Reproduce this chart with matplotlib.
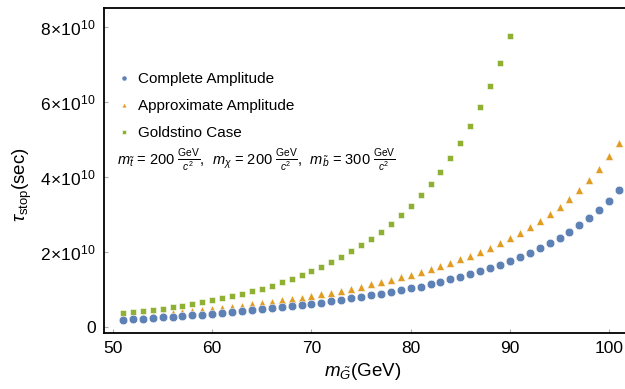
import matplotlib
matplotlib.use("Agg")
from matplotlib import pyplot as plt
from matplotlib.ticker import FuncFormatter

plt.rcParams['font.family'] = ['Liberation Sans', 'DejaVu Sans']
plt.rcParams['mathtext.fontset'] = 'custom'
plt.rcParams['mathtext.rm'] = 'Liberation Sans'
plt.rcParams['mathtext.it'] = 'Liberation Sans:italic'
plt.rcParams['mathtext.bf'] = 'Liberation Sans:bold'

# gravitino mass (GeV)
mass = list(range(51, 102))
mass_goldstino = list(range(51, 91))

# stop lifetime, in units of 1e10 sec
complete = [0.187, 0.205, 0.222, 0.24, 0.258, 0.275, 0.293, 0.31, 0.33, 0.35,
            0.365, 0.39, 0.42, 0.45, 0.47, 0.50, 0.525, 0.55, 0.587, 0.613,
            0.648, 0.693, 0.728, 0.765, 0.80, 0.845, 0.888, 0.933, 0.987, 1.03,
            1.07, 1.15, 1.21, 1.27, 1.34, 1.41, 1.49, 1.57, 1.66, 1.75,
            1.87, 1.97, 2.10, 2.23, 2.37, 2.53, 2.71, 2.91, 3.12, 3.37, 3.65]
approximate = [0.26, 0.28, 0.30, 0.325, 0.35, 0.37, 0.40, 0.42, 0.45, 0.47,
               0.50, 0.53, 0.57, 0.60, 0.63, 0.667, 0.712, 0.747, 0.78, 0.827,
               0.872, 0.915, 0.968, 1.02, 1.075, 1.14, 1.20, 1.25, 1.32, 1.39,
               1.47, 1.54, 1.63, 1.71, 1.81, 1.90, 2.00, 2.11, 2.24, 2.37,
               2.51, 2.67, 2.83, 3.00, 3.21, 3.41, 3.65, 3.92, 4.21, 4.55, 4.91]
goldstino = [0.365, 0.39, 0.42, 0.453, 0.49, 0.525, 0.568, 0.613, 0.66, 0.71,
             0.765, 0.82, 0.88, 0.95, 1.02, 1.095, 1.19, 1.28, 1.38, 1.485,
             1.60, 1.725, 1.867, 2.02, 2.18, 2.355, 2.54, 2.75, 2.99, 3.23,
             3.51, 3.80, 4.14, 4.51, 4.91, 5.36, 5.87, 6.43, 7.05, 7.75]

scale = 1e10

fig = plt.figure(figsize=(6.25, 3.89), dpi=100)
ax = fig.add_axes([0.1664, 0.144, 0.8336, 0.8355])

ax.plot(mass, [v * scale for v in complete], 'o', color='#5E81B5', ms=6.2,
        mec='white', mew=0.4, label='Complete Amplitude', zorder=3)
ax.plot(mass, [v * scale for v in approximate], '^', color='#E19C24', ms=5.8,
        mec='white', mew=0.4, label='Approximate Amplitude', zorder=2)
ax.plot(mass_goldstino, [v * scale for v in goldstino], 's', color='#8FB032',
        ms=4.4, mec='white', mew=0.4, label='Goldstino Case', zorder=2)

ax.set_xlim(49.09, 101.6)
ax.set_ylim(-0.16e10, 8.507e10)
ax.set_xticks([50, 60, 70, 80, 90, 100])
ax.set_yticks([0, 2e10, 4e10, 6e10, 8e10])


def sci(v, pos):
    if v == 0:
        return '0'
    return r'$%d\!\times\!10^{10}$' % round(v / scale)


ax.yaxis.set_major_formatter(FuncFormatter(sci))
ax.tick_params(direction='in', length=3, color='#aaaaaa', labelsize=12.5, pad=6)
ax.spines['right'].set_visible(False)
for s in ['left', 'bottom', 'top']:
    ax.spines[s].set_linewidth(1.3)

leg = ax.legend(loc='upper left', bbox_to_anchor=(117 / 625, 1 - 72 / 389),
                bbox_transform=fig.transFigure, frameon=False, fontsize=11,
                handlelength=0.95, handletextpad=0.4, labelspacing=0.86,
                borderpad=0, borderaxespad=0, markerscale=0.6)

fig.text(117 / 625, 1 - 161 / 389,
         r'$m_{\tilde{t}}$ = 200 $\frac{\mathrm{GeV}}{c^2}$,  '
         r'$m_{\chi}$ = 200 $\frac{\mathrm{GeV}}{c^2}$,  '
         r'$m_{\tilde{b}}$ = 300 $\frac{\mathrm{GeV}}{c^2}$',
         fontsize=10.5, va='center', ha='left')

fig.text(22 / 625, 1 - 185 / 389, r'$\tau_{\mathrm{stop}}$(sec)', rotation=90,
         fontsize=13.5, va='center', ha='center')
fig.text(363 / 625, 1 - 371 / 389, r'$m_{\tilde{G}}$(GeV)',
         fontsize=13.5, va='center', ha='center')

fig.savefig('out.png', dpi=100)
